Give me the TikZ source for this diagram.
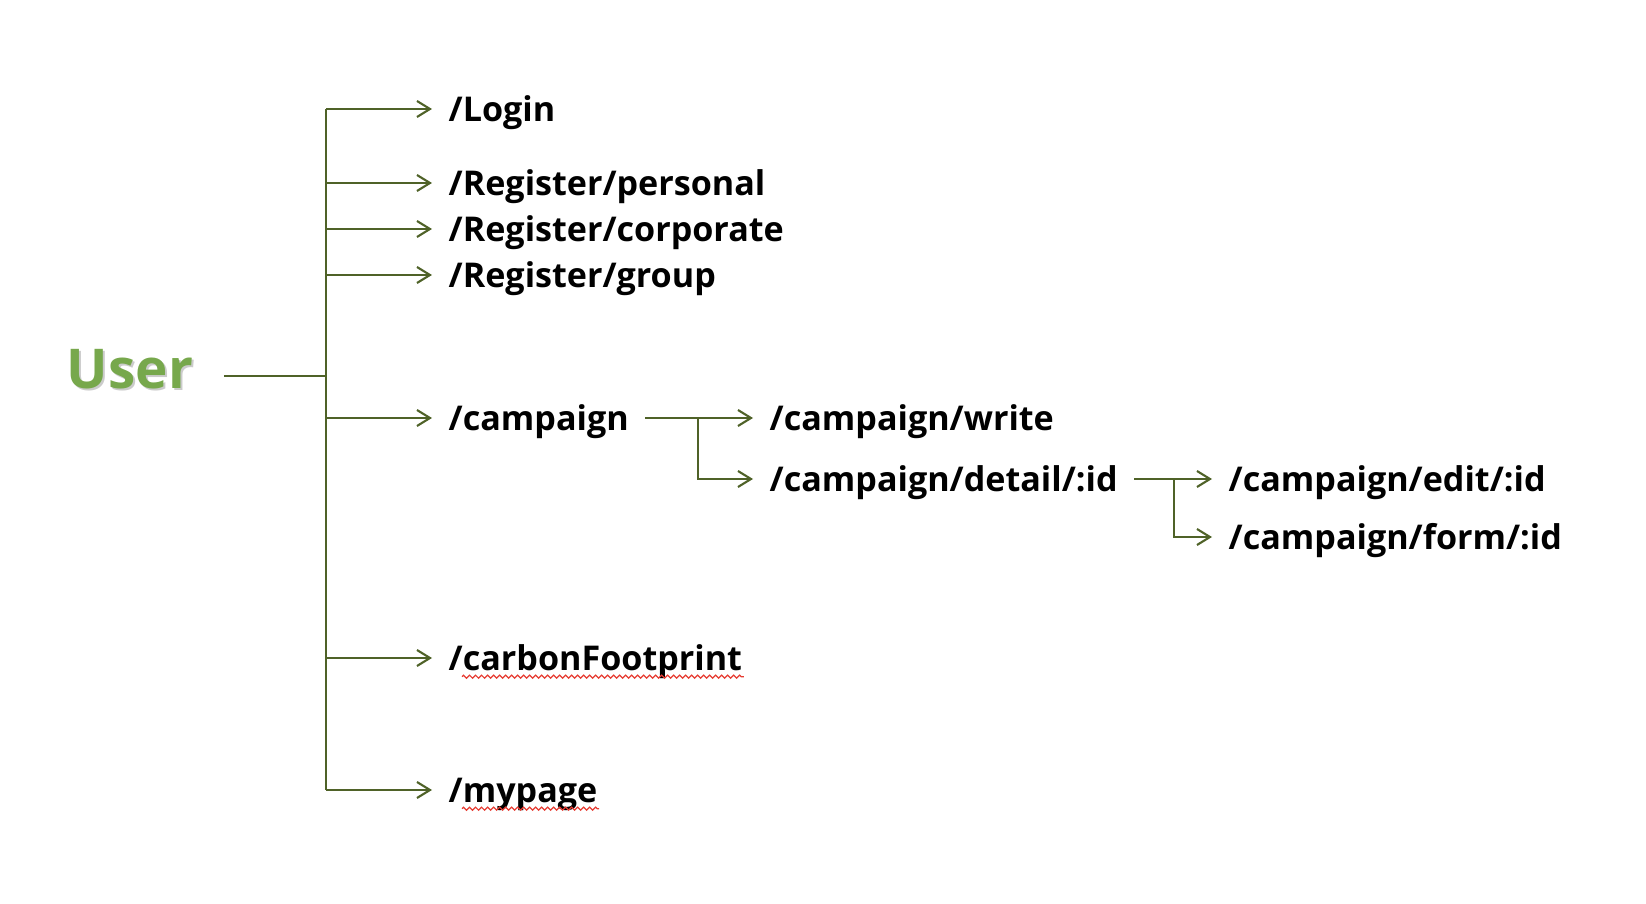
\documentclass[tikz,border=0pt]{standalone}
\usepackage{fontspec}
\setmainfont{Open Sans}
\usetikzlibrary{arrows.meta,decorations.pathmorphing}
\definecolor{moss}{RGB}{79,98,40}
\definecolor{leaf}{RGB}{119,168,76}
\definecolor{spell}{RGB}{230,60,50}
\tikzset{
  >={Straight Barb[length=1.3mm,width=1.6mm]},
  route/.style={font=\fontsize{9.7pt}{12pt}\selectfont\bfseries,anchor=west,
    inner xsep=1.6mm,inner ysep=0pt,text height=2.43mm,text depth=0pt},
  root/.style={font=\fontsize{15.6pt}{18pt}\selectfont\bfseries,text=#1,
    inner xsep=3mm,inner ysep=0pt,text height=3.92mm,text depth=0pt},
  root/.default=leaf,
  stem/.style={draw=moss,line width=0.75pt},
  flow/.style={->,draw=moss,line width=0.6pt},
  squiggle/.style={draw=spell,line width=0.35pt,decorate,
    decoration={zigzag,amplitude=0.15mm,segment length=0.6mm}},
}
\begin{document}
\begin{tikzpicture}[x=0.01cm,y=-0.01cm]
  \useasboundingbox (0,0) rectangle (1646,904);
  % root
  \node[root=black!45,opacity=0.45] (usershadow) at (132,371) {User};
  \node[root] (user) at (130,369) {User};
  \coordinate (ujoin) at (326,376);
  % first level
  \foreach \n/\y/\t in {login/109/{/Login},personal/183/{/Register/personal},
    corporate/229/{/Register/corporate},group/275/{/Register/group},
    campaign/418/{/campaign},cfp/658/{/carbonFootprint},mypage/790/{/mypage}}{
    \node[route] (\n) at (432,\y) {\t};
  }
  \draw[stem] (user.east |- ujoin) -- (ujoin);
  \draw[stem] (ujoin |- login.west) -- (ujoin |- mypage.west);
  \foreach \n in {login,personal,corporate,group,campaign,cfp,mypage}
    \draw[flow] (ujoin |- \n.west) -- (\n.west);
  % campaign pages
  \node[route] (write) at (753,418) {/campaign/write};
  \node[route] (detail) at (753,479) {/campaign/detail/:id};
  \coordinate (cjoin) at (698,418);
  \draw[flow] (campaign.east) -- (write.west);
  \draw[flow] (cjoin) |- (detail.west);
  % detail pages
  \node[route] (edit) at (1212,479) {/campaign/edit/:id};
  \node[route] (form) at (1212,537) {/campaign/form/:id};
  \coordinate (djoin) at (1174,479);
  \draw[flow] (detail.east) -- (edit.west);
  \draw[flow] (djoin) |- (form.west);
  % spell check marks
  \foreach \n in {cfp,mypage}
    \draw[squiggle] ([xshift=3mm,yshift=-0.65mm]\n.base west) -- ([xshift=-1.5mm,yshift=-0.65mm]\n.base east);
\end{tikzpicture}
\end{document}
